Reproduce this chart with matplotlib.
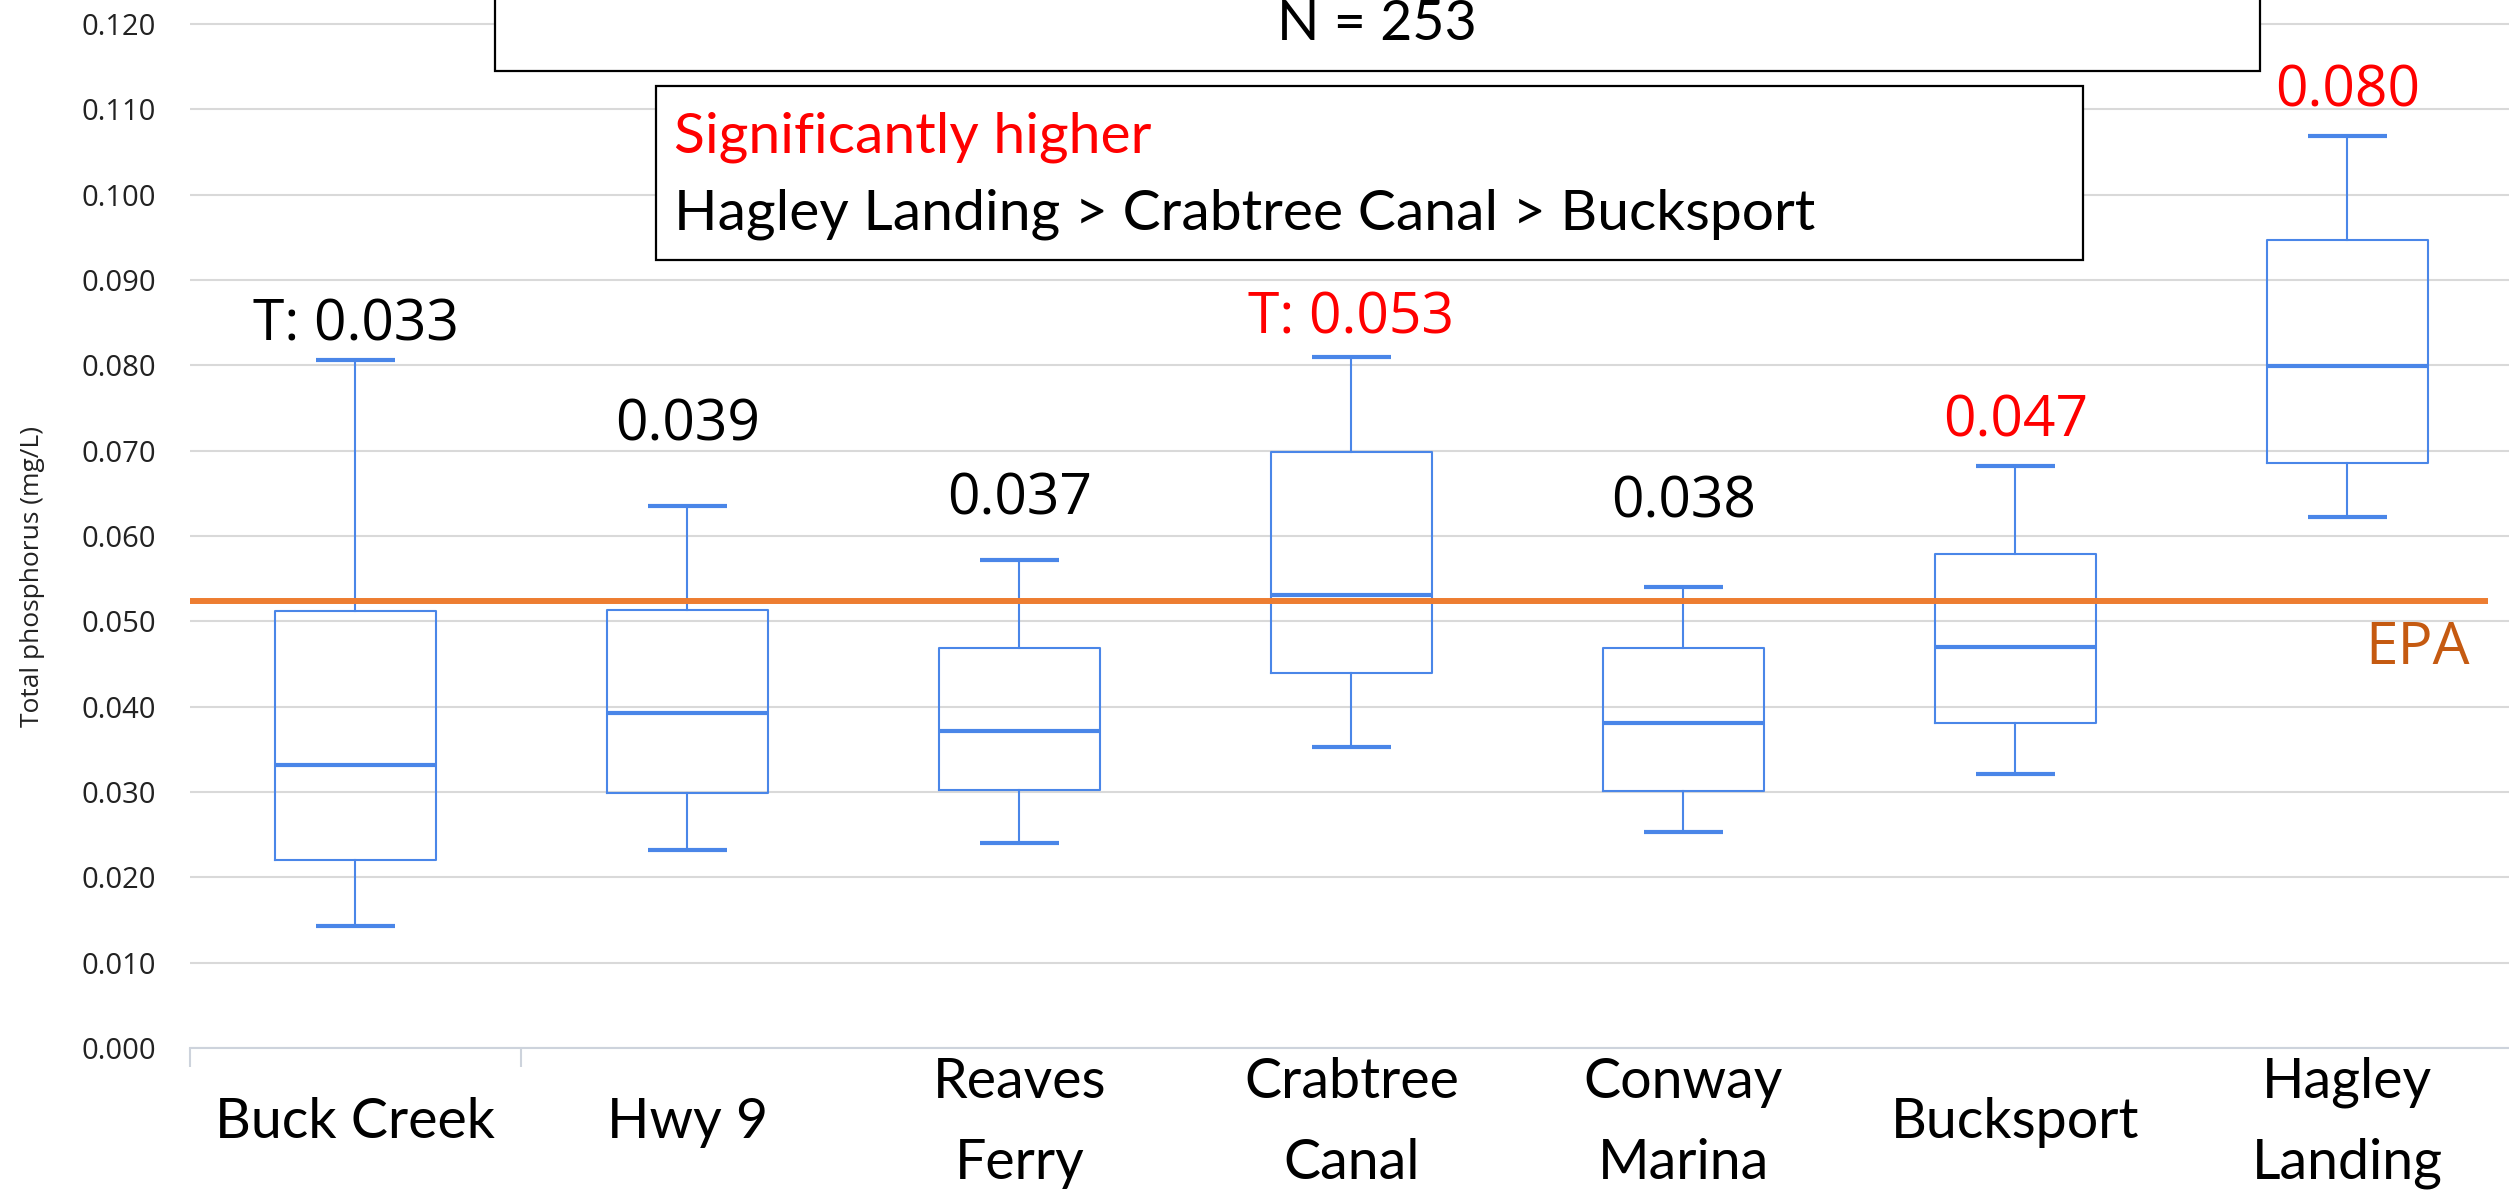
import matplotlib
matplotlib.use('Agg')
import matplotlib.pyplot as plt
from matplotlib.patches import Rectangle
from matplotlib.ticker import FormatStrFormatter

# data (mg/L)
sites = ['Buck Creek', 'Hwy 9', 'Reaves\nFerry', 'Crabtree\nCanal',
         'Conway\nMarina', 'Bucksport', 'Hagley\nLanding']
whisker_low = [0.0143, 0.0232, 0.0240, 0.0353, 0.0253, 0.0321, 0.0622]
q1 = [0.0220, 0.0299, 0.0302, 0.0440, 0.0301, 0.0381, 0.0686]
medians = [0.0332, 0.0393, 0.0371, 0.0531, 0.0381, 0.0470, 0.0799]
q3 = [0.0512, 0.0513, 0.0469, 0.0699, 0.0469, 0.0579, 0.0947]
whisker_high = [0.0806, 0.0635, 0.0572, 0.0810, 0.0540, 0.0682, 0.1069]
median_labels = ['T: 0.033', '0.039', '0.037', 'T: 0.053', '0.038', '0.047', '0.080']
significant = [False, False, False, True, False, True, True]
epa_limit = 0.0524
n_samples = 253

BLUE = '#4A86E8'
GRID = '#D9D9D9'
AXIS = '#CDD3DC'

plt.rcParams['font.family'] = ['Open Sans', 'DejaVu Sans']

fig = plt.figure(figsize=(25.09, 12.04), dpi=100)
ax = fig.add_axes([0.07553, 0.12957, 0.9262, 0.8704])

stats = [
    {'label': s, 'whislo': lo, 'q1': a, 'med': m, 'q3': b, 'whishi': hi, 'fliers': []}
    for s, lo, a, m, b, hi in zip(sites, whisker_low, q1, medians, q3, whisker_high)
]
ax.bxp(stats, positions=range(len(sites)), widths=0.485, capwidths=0.24,
       showfliers=False, manage_ticks=False,
       boxprops=dict(color=BLUE, linewidth=1.5),
       whiskerprops=dict(color=BLUE, linewidth=1.5),
       capprops=dict(color=BLUE, linewidth=3, solid_capstyle='butt'),
       medianprops=dict(color=BLUE, linewidth=3, solid_capstyle='butt'),
       zorder=3)

# EPA criterion line
ax.hlines(epa_limit, -0.5, 6.423, color='#ED7D31', linewidth=4.3, zorder=4)
ax.text(6.21, epa_limit - 0.0056, 'EPA', color='#C55A11', fontsize=42,
        ha='center', va='center')

# median labels above each upper whisker
label_offsets = [14, 47, 33, 17, 50, 21, 21]
for i, (txt, hi, sig, off) in enumerate(zip(median_labels, whisker_high, significant, label_offsets)):
    ax.annotate(txt, xy=(i, hi), xytext=(0, off), textcoords='offset points',
                ha='center', va='baseline', fontsize=41,
                color='red' if sig else 'black', zorder=5)

ax.set_xlim(-0.5, 6.5)
ax.set_ylim(0, 0.12282)
ax.set_yticks([i / 100 for i in range(13)])
ax.yaxis.set_major_formatter(FormatStrFormatter('%.3f'))
ax.tick_params(axis='y', length=0, pad=24, labelsize=21, labelcolor='#222222')
ax.grid(axis='y', color=GRID, linewidth=1.5, zorder=0)
ax.set_axisbelow(True)

ax.set_xticks(range(len(sites)))
ax.set_xticklabels(sites, fontfamily='Lato', fontsize=40, va='center', linespacing=1.72)
ax.tick_params(axis='x', length=0, pad=54)
ax.set_xticks([-0.5, 0.5], minor=True)
ax.tick_params(axis='x', which='minor', length=14, width=1.5, color=AXIS, direction='out')

for side in ['top', 'right', 'left']:
    ax.spines[side].set_visible(False)
ax.spines['bottom'].set_color(AXIS)
ax.spines['bottom'].set_linewidth(1.5)
ax.spines['bottom'].set_zorder(2)

ax.set_ylabel('Total phosphorus (mg/L)', fontsize=19, color='#222222')
ax.yaxis.set_label_coords(-0.0622, 0.45)

# annotation boxes (slide text boxes)
W, H = 2509, 1204
fig.patches.append(Rectangle((495 / W, 1 - 71 / H), (2260 - 495) / W, 0.1,
                             transform=fig.transFigure, fill=True, facecolor='white',
                             edgecolor='black', linewidth=1.6, zorder=6, clip_on=False))
fig.text(1377 / W, 1 - 24 / H, f'N = {n_samples}', fontfamily='Lato', fontsize=40,
         ha='center', va='center', zorder=7)

fig.patches.append(Rectangle((656 / W, 1 - 260 / H), (2083 - 656) / W, (260 - 86) / H,
                             transform=fig.transFigure, fill=True, facecolor='white',
                             edgecolor='black', linewidth=1.6, zorder=6))
fig.text(674 / W, 1 - 137 / H, 'Significantly higher', fontfamily='Lato', fontsize=41,
         color='red', ha='left', va='center', zorder=7)
fig.text(674 / W, 1 - 214 / H, 'Hagley Landing > Crabtree Canal > Bucksport',
         fontfamily='Lato', fontsize=41, color='black', ha='left', va='center', zorder=7)

fig.savefig('out.png', dpi=100, facecolor='white')
